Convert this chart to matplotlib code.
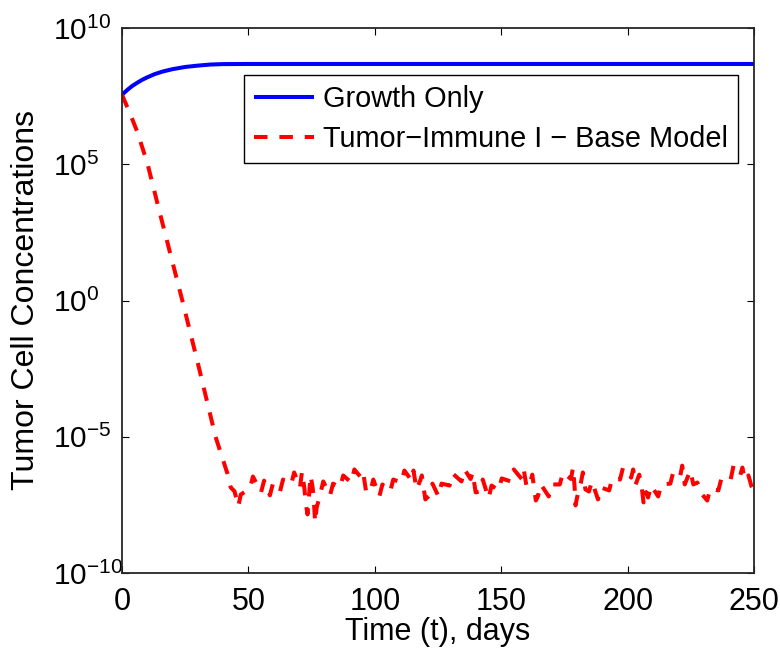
import numpy as np
import matplotlib
matplotlib.use("Agg")
import matplotlib.pyplot as plt

plt.rcParams['font.family'] = ['Liberation Sans', 'DejaVu Sans']
plt.rcParams['mathtext.fontset'] = 'custom'
plt.rcParams['mathtext.rm'] = 'Liberation Sans'
plt.rcParams['mathtext.it'] = 'Liberation Sans:italic'
plt.rcParams['axes.unicode_minus'] = False

# Growth only (log10 of tumor cells)
growth_t = [0, 2, 4, 6, 8, 10, 13, 16, 20, 25, 30, 35, 40, 50, 250]
growth_log = [7.55, 7.72, 7.87, 7.99, 8.10, 8.19, 8.31, 8.40, 8.49, 8.57, 8.62, 8.66, 8.675, 8.68, 8.68]

# Tumor-Immune I - Base Model (log10 of tumor cells)
immune_t = [0, 3, 6, 10, 15, 20, 24, 30, 37, 41.7, 43.0, 44.5, 46.0, 47.0,
            50.6, 51.8, 55.0, 56.2, 58.5, 59.7, 62.5, 63.7, 66.9, 68.1,
            70.4, 71.2, 72.2, 72.6, 73.4, 74.6, 75.4, 75.8, 76.4, 77.0,
            78.4, 79.6, 82.3, 83.5, 86.3, 87.5, 90.7, 91.9,
            94.6, 95.4, 96.6, 98.2, 99.4, 101.8, 103.0, 106.1, 107.3, 110.5, 111.7,
            114.5, 115.3, 116.5, 118.0, 118.6, 120.0, 121.6, 122.8, 125.2, 126.4,
            129.6, 130.8, 134.3, 135.5, 137.9, 138.7, 139.9, 141.5, 142.7,
            145.0, 146.2, 149.0, 150.2, 153.8, 155.0, 158.1, 158.9, 160.1,
            161.7, 162.3, 163.7, 164.5, 165.7, 168.8, 170.0, 173.2, 174.4,
            177.6, 178.4, 179.0, 179.4, 180.0, 181.5, 182.3, 183.3, 184.7, 185.9,
            188.3, 189.5, 192.7, 193.9, 197.0, 198.2, 201.4, 202.2, 203.2,
            204.6, 205.6, 206.3, 206.9, 208.1, 209.3, 212.1, 213.3, 216.9, 218.1,
            220.8, 221.6, 222.6, 224.8, 226.0, 227.6, 228.8, 231.5, 232.7,
            235.9, 237.1, 240.7, 241.9, 244.6, 245.4, 246.4, 247.8, 249.0, 250.4]
immune_log = [7.55, 6.90, 6.20, 5.05, 3.20, 1.40, -0.05, -2.30, -5.00, -6.35, -6.86, -7.00, -7.55, -7.12,
              -6.90, -6.46, -7.04, -6.61, -7.15, -6.72, -7.01, -6.57, -6.75, -6.31,
              -6.86, -6.28, -6.93, -7.41, -7.85, -6.42, -6.86, -7.23, -8.14, -7.60,
              -7.12, -6.64, -7.15, -6.72, -6.86, -6.42, -6.68, -6.20,
              -6.50, -6.31, -7.04, -7.01, -6.57, -7.19, -6.75, -7.01, -6.57, -6.68, -6.24,
              -6.60, -6.24, -6.93, -6.60, -6.42, -7.30, -7.15, -6.72, -7.19, -6.72,
              -6.79, -6.35, -6.64, -6.20, -6.55, -6.31, -7.04, -7.01, -6.57,
              -7.26, -6.79, -6.97, -6.53, -6.64, -6.20, -6.55, -6.20, -6.86,
              -6.60, -6.39, -7.34, -7.19, -6.75, -7.19, -6.75, -6.75, -6.31,
              -6.55, -6.13, -6.79, -7.52, -7.23, -6.70, -6.31, -6.93, -7.01, -6.64,
              -7.30, -6.86, -6.97, -6.53, -6.57, -6.13, -6.50, -6.20, -6.75,
              -6.39, -6.86, -7.41, -6.97, -7.23, -6.79, -7.19, -6.75, -6.72, -6.28,
              -6.45, -6.06, -6.75, -6.24, -6.75, -6.68, -7.04, -7.34, -6.90,
              -6.97, -6.53, -6.60, -6.06, -6.40, -6.13, -6.60, -6.42, -6.82, -7.01]

xticks = [0, 50, 100, 150, 200, 250]
yticks = [1e-10, 1e-5, 1e0, 1e5, 1e10]

fig = plt.figure(figsize=(7.8, 6.54), dpi=100)
ax = fig.add_axes([122/780, 1 - 573/654, 632/780, 545/654])

leg_fs = 20.8
lw = 2.9
ax.semilogy(growth_t, 10.0 ** np.array(growth_log), color='#0000ff', lw=lw,
            label='Growth Only', solid_capstyle='butt')
ax.semilogy(immune_t, 10.0 ** np.array(immune_log), color='#ff0000', lw=lw,
            dashes=(3.35, 2.95), dash_capstyle='butt',
            label='Tumor\u2212Immune I \u2212 Base Model')

ax.set_xlim(0, 250)
ax.set_ylim(1e-10, 1e10)
ax.set_xticks(xticks)
ax.set_yticks(yticks)
ax.yaxis.set_minor_locator(matplotlib.ticker.NullLocator())
ax.tick_params(direction='in', length=5, width=0.8, top=True, right=True)
ax.tick_params(axis='x', pad=10, labelsize=22)
ax.tick_params(axis='y', pad=50, labelsize=21.5)
for lbl in ax.get_yticklabels():
    lbl.set_horizontalalignment('left')
for s in ax.spines.values():
    s.set_linewidth(1.3)
    s.set_color('#262626')

ax.set_xlabel('Time (t), days', fontsize=22, labelpad=0)
ax.set_ylabel('Tumor Cell Concentrations', fontsize=23)
ax.yaxis.set_label_coords((41 - 122) / 632, 0.5)

leg = ax.legend(loc='upper right', bbox_to_anchor=((738 - 122) / 632, 1 - (75 - 28) / 545),
                borderaxespad=0, fontsize=leg_fs, fancybox=False, framealpha=1,
                edgecolor='black', handlelength=2.1, handletextpad=0.3,
                labelspacing=0.42, borderpad=0.35)
leg.get_frame().set_linewidth(1.0)

fig.savefig('out.png', dpi=100)
